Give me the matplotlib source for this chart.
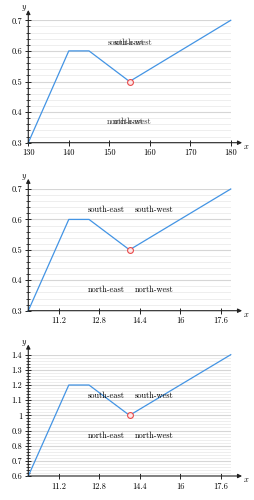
"""Three stacked pgfplots-style line panels with node labels."""
import matplotlib
matplotlib.use("Agg")
import matplotlib.pyplot as plt
from matplotlib.ticker import MultipleLocator, FixedLocator, FuncFormatter

plt.rcParams["mathtext.fontset"] = "cm"
plt.rcParams["font.family"] = ["cmr10", "DejaVu Serif"]
plt.rcParams["axes.formatter.use_mathtext"] = True

# ── data ─────────────────────────────────────────────────────
x_top = [130, 140, 145, 155, 180]
y_top = [0.3, 0.6, 0.6, 0.5, 0.7]
x_mid = [10, 11.6, 12.4, 14, 18]
y_mid = [0.3, 0.6, 0.6, 0.5, 0.7]
x_bot = [10, 11.6, 12.4, 14, 18]
y_bot = [0.6, 1.2, 1.2, 1.0, 1.4]
mark_idx = 3
xticks_top = [130, 140, 150, 160, 170, 180]
xticks_low = [11.2, 12.8, 14.4, 16, 17.6]

LINE = "#4394e4"
RED = "#e8494a"
FS = 6

fig = plt.figure(figsize=(2.54, 5.0), dpi=100)

rects = [
    (0.1114, 0.7146, 0.797, 0.2448),
    (0.1114, 0.3786, 0.797, 0.2434),
    (0.1114, 0.0480, 0.797, 0.2426),
]

fmt = FuncFormatter(lambda v, p: "%g" % round(v, 4))


def panel(rect, xs, ys, xticks, xlim, ylim, labels, overlap):
    ax = fig.add_axes(rect)
    ax.set_xlim(*xlim)
    ax.set_ylim(*ylim)
    for s in ax.spines.values():
        s.set_visible(False)
    ax.plot(xs, ys, color=LINE, lw=0.9, zorder=3, clip_on=False)
    ax.plot(xs[mark_idx], ys[mark_idx], "o", ms=4.2, mfc="#fde8e8",
            mec=RED, mew=0.8, zorder=4)

    ax.xaxis.set_major_locator(FixedLocator(xticks))
    ax.yaxis.set_major_locator(MultipleLocator(0.1))
    ax.yaxis.set_minor_locator(MultipleLocator(0.02))
    ax.xaxis.set_major_formatter(fmt)
    ax.yaxis.set_major_formatter(fmt)
    ax.tick_params(axis="both", which="major", direction="inout", length=5,
                   width=0.7, labelsize=FS, color="#222222", pad=2)
    ax.tick_params(axis="y", which="minor", direction="inout", length=3,
                   width=0.6, color="#222222")
    ax.tick_params(axis="x", which="minor", length=0)
    ax.grid(axis="y", which="major", color="#d6d6d6", lw=0.8, zorder=0)
    ax.grid(axis="y", which="minor", color="#ebebeb", lw=0.6, zorder=0)

    # axis lines with arrow heads
    arr = dict(arrowstyle="-|>", color="#222222", lw=0.8,
               mutation_scale=6, shrinkA=0, shrinkB=0)
    ax.annotate("", xy=(1.056, 0), xytext=(0, 0), xycoords="axes fraction",
                arrowprops=arr, annotation_clip=False, zorder=5)
    ax.annotate("", xy=(0, 1.084), xytext=(0, 0), xycoords="axes fraction",
                arrowprops=arr, annotation_clip=False, zorder=5)
    ax.text(1.062, -0.03, "$x$", transform=ax.transAxes, fontsize=FS,
            ha="left", va="center")
    ax.text(-0.005, 1.10, "$y$", transform=ax.transAxes, fontsize=FS,
            ha="right", va="center")

    cx, (ys_hi, ys_lo) = labels
    for yy, a, b in [(ys_hi, "south-east", "south-west"),
                     (ys_lo, "north-east", "north-west")]:
        if overlap:
            ax.annotate(a, (cx, yy), xytext=(-2.7, 0), textcoords="offset points",
                        fontsize=FS, ha="center", va="center", zorder=6,
                        color="#333333")
            ax.annotate(b, (cx, yy), xytext=(2.2, 0), textcoords="offset points",
                        fontsize=FS, ha="center", va="center", zorder=6,
                        color="#333333")
        else:
            ax.annotate(a, (cx, yy), xytext=(-3.5, 0), textcoords="offset points",
                        fontsize=FS, ha="right", va="center", zorder=6)
            ax.annotate(b, (cx, yy), xytext=(3.5, 0), textcoords="offset points",
                        fontsize=FS, ha="left", va="center", zorder=6)
    return ax


panel(rects[0], x_top, y_top, xticks_top, (130, 180), (0.3, 0.7),
      (155, (0.628, 0.369)), True)
panel(rects[1], x_mid, y_mid, xticks_low, (10, 18), (0.3, 0.7),
      (14, (0.631, 0.368)), False)
panel(rects[2], x_bot, y_bot, xticks_low, (10, 18), (0.6, 1.4),
      (14, (1.128, 0.864)), False)

fig.savefig("out.png", dpi=100)
